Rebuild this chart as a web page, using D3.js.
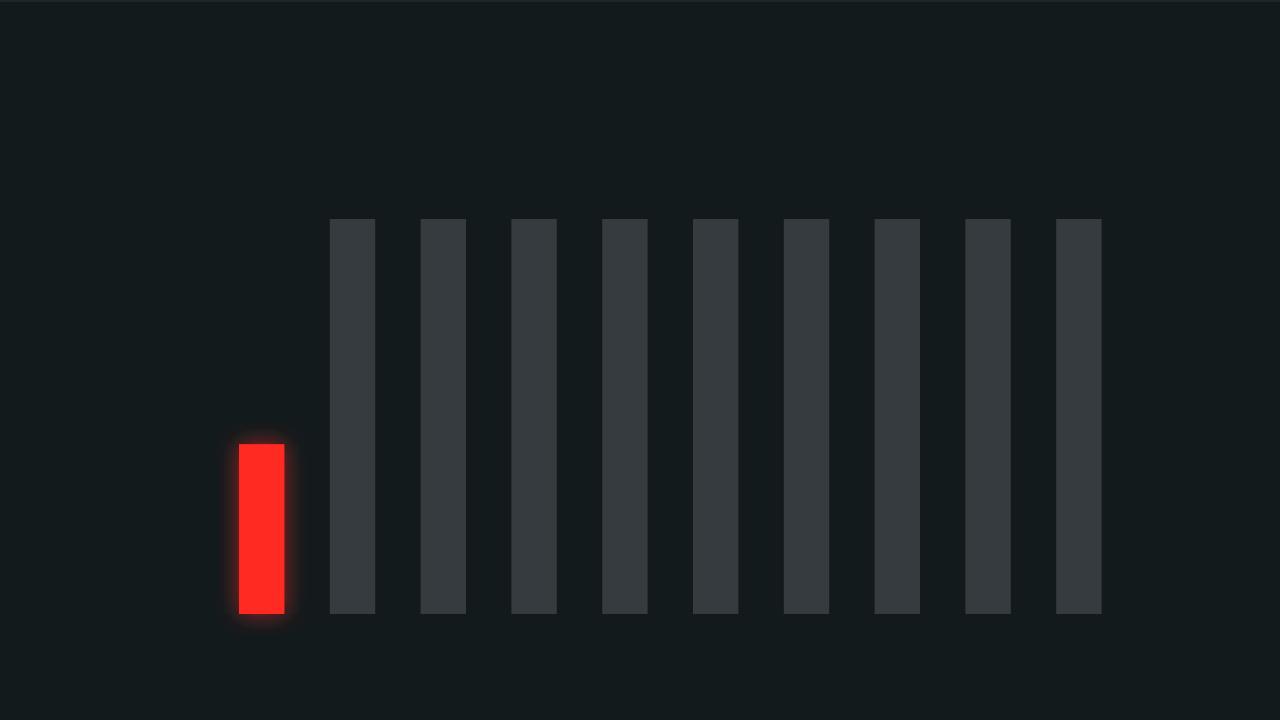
<!DOCTYPE html>
<html><head><meta charset="utf-8">
<script src="https://cdn.jsdelivr.net/npm/d3@7"></script>
<style>html,body{margin:0;padding:0;background:#131a1c;overflow:hidden}</style>
</head><body>
<svg id="c" width="1280" height="720"></svg>
<script>
const categories = ["A","B","C","D","E","F","G","H","I","J"];
const values = [43, 100, 100, 100, 100, 100, 100, 100, 100, 100];
const highlight = ["A"];

const svg = d3.select("#c");
svg.append("rect").attr("width",1280).attr("height",720).attr("fill","#131a1c");
svg.append("rect").attr("width",1280).attr("height",2).attr("fill","#1f2628");

const defs = svg.append("defs");
const f = defs.append("filter").attr("id","glow").attr("x","-100%").attr("y","-50%").attr("width","300%").attr("height","200%");
f.append("feGaussianBlur").attr("in","SourceGraphic").attr("stdDeviation",11).attr("result","b");
f.append("feComponentTransfer").attr("in","b").attr("result","b2")
  .append("feFuncA").attr("type","linear").attr("slope",0.6);
const m = f.append("feMerge");
m.append("feMergeNode").attr("in","b2");
m.append("feMergeNode").attr("in","SourceGraphic");

const x = d3.scaleBand().domain(categories).range([216.3,1124.3]).paddingInner(0.5).paddingOuter(0.25);
const y = d3.scaleLinear().domain([0,100]).range([614,219]);

svg.selectAll("rect.bar").data(categories).join("rect")
  .attr("class","bar")
  .attr("x",d=>x(d))
  .attr("width",x.bandwidth())
  .attr("y",(d,i)=>y(values[i]))
  .attr("height",(d,i)=>y(0)-y(values[i]))
  .attr("fill",d=>highlight.includes(d)?"#ff2a22":"#353b3e")
  .attr("filter",d=>highlight.includes(d)?"url(#glow)":null);
</script>
</body></html>
